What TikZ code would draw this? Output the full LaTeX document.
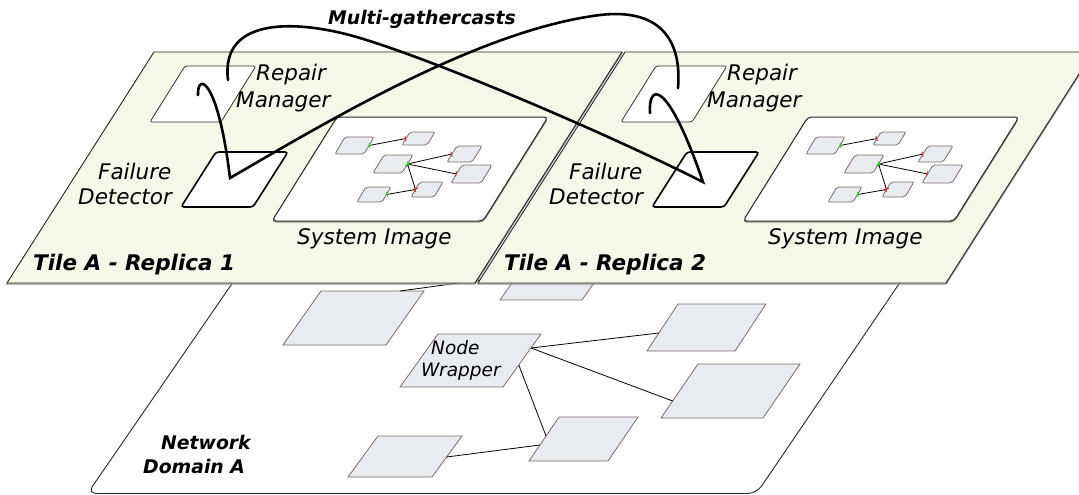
\documentclass[tikz,border=0pt]{standalone}
\usepackage{fontspec}
\setmainfont{DejaVu Sans}
\usetikzlibrary{calc,arrows.meta}

\definecolor{tilefill}{RGB}{247,247,232}
\definecolor{nodefill}{RGB}{232,236,241}
\definecolor{nodeline}{RGB}{128,104,104}
\definecolor{tickgreen}{RGB}{40,215,40}
\definecolor{tickred}{RGB}{230,40,40}

\tikzset{
  tileplate/.style={fill=tilefill, draw=black!85, line width=0.9pt,
    preaction={draw=black!40, line width=1.4pt, transform canvas={yshift=-1pt}}},
  rmbox/.style={fill=white, draw=black!80, line width=0.8pt, rounded corners=2.5pt},
  fdbox/.style={fill=white, draw=black, line width=1.6pt, rounded corners=3pt},
  sipanel/.style={fill=white, draw=black!85, line width=1pt, rounded corners=4pt,
    preaction={draw=black!40, line width=1.4pt, transform canvas={yshift=-1pt}}},
  mini/.style={fill=nodefill, draw=nodeline, line width=0.8pt, rounded corners=2pt},
  netnode/.style={fill=nodefill, draw=nodeline, line width=0.8pt},
  netlink/.style={draw=black, line width=0.8pt},
  minilink/.style={draw=black, line width=0.8pt,
    arrows={Bar[width=5pt,line width=1pt,color=tickgreen]-Bar[width=5pt,line width=1pt,color=tickred]}},
  cast/.style={draw=black, line width=2.6pt, line cap=round},
  lbl/.style={font=\fontsize{21.5}{26}\selectfont\itshape, inner sep=0pt},
  tlbl/.style={font=\fontsize{21.5}{26}\selectfont\bfseries\itshape, inner sep=0pt},
  nlbl/.style={font=\fontsize{18.5}{22}\selectfont\itshape, inner sep=0pt},
  blbl/.style={font=\fontsize{18.8}{22}\selectfont\bfseries\itshape, inner sep=0pt},
}

% slanted box: name, bottom-left x, bottom-left y, width, height, slant, style
\newcommand\slab[7]{%
  \coordinate (#1-bl) at (#2,#3);
  \coordinate (#1-br) at ({#2+#4},#3);
  \coordinate (#1-tr) at ({#2+#4+#6},{#3-#5});
  \coordinate (#1-tl) at ({#2+#6},{#3-#5});
  \coordinate (#1-w) at ($(#1-bl)!0.5!(#1-tl)$);
  \coordinate (#1-e) at ($(#1-br)!0.5!(#1-tr)$);
  \path[#7] (#1-bl) -- (#1-br) -- (#1-tr) -- (#1-tl) -- cycle;
}

% one replica tile with its repair manager, failure detector and system image
\newcommand\drawtile[2]{%
  \slab{#1}{7}{283}{468}{231}{147}{tileplate}
  \slab{#1-rm}{150}{122}{71}{56}{35}{rmbox}
  \slab{#1-fd}{181}{207}{72}{55}{35}{fdbox}
  \slab{#1-si}{272}{221}{211}{104}{65}{sipanel}
  \slab{#1-ma}{335}{154}{29}{17}{10}{mini}
  \slab{#1-mb}{402}{145}{25}{13}{8}{mini}
  \slab{#1-mc}{373}{173}{29}{18}{11}{mini}
  \slab{#1-md}{447}{162}{25}{16}{10}{mini}
  \slab{#1-me}{451}{183}{30}{18}{11}{mini}
  \slab{#1-mf}{411}{197}{23}{15}{9}{mini}
  \slab{#1-mg}{357}{202}{25}{15}{9}{mini}
  \draw[minilink] (#1-ma-e) -- (#1-mb-w);
  \draw[minilink] (#1-mc-e) -- (#1-md-w);
  \draw[minilink] (#1-mc-e) -- (#1-me-w);
  \draw[minilink] (#1-mc-e) -- (#1-mf-w);
  \draw[minilink] (#1-mg-e) -- (#1-mf-w);
  \node[lbl, anchor=base west] (#1-rmt1) at (256,81) {Repair};
  \node[lbl, anchor=base west] (#1-rmt2) at (236,107) {Manager};
  \node[lbl, anchor=base west] (#1-fdt1) at (98,179) {Failure};
  \node[lbl, anchor=base west] (#1-fdt2) at (78,204) {Detector};
  \node[lbl, anchor=base west] (#1-sit) at (297,244) {System Image};
  \node[tlbl, anchor=base west] (#1-title) at (33,270) {Tile A - Replica #2};
}

\begin{document}
\begin{tikzpicture}[x=1pt, y=-1pt]
\useasboundingbox (0,0) rectangle (1079,495);
\clip (0,0) rectangle (1079,495);

% network domain (its top edge lies under the tiles)
\fill[white, rounded corners=9pt] (324,150) -- (87.5,493.5) -- (756.5,493.5) -- (990,150) -- cycle;
\draw[line width=0.9pt, black!85, rounded corners=9pt] (324,150) -- (87.5,493.5) -- (756.5,493.5) -- (990,150);

% network nodes
\slab{n1}{283}{345}{103}{54}{38}{netnode}
\slab{n2}{500}{300}{82}{50}{35}{netnode}
\slab{nw}{400}{387}{103}{53}{38}{netnode}
\slab{n4}{647}{351}{88}{47}{31}{netnode}
\slab{n5}{661}{418}{102}{54}{37}{netnode}
\slab{n6}{529}{461}{79}{44}{30}{netnode}
\slab{n7}{348}{477}{84}{41}{30}{netnode}

\draw[netlink] ($(n1-tl)!0.767!(n1-tr)$) -- (n2-w);
\draw[netlink] ($(nw-br)!0.736!(nw-tr)$) -- ($(n4-bl)!0.383!(n4-tl)$);
\draw[netlink] ($(nw-br)!0.736!(nw-tr)$) -- ($(n5-bl)!0.315!(n5-tl)$);
\draw[netlink] ($(nw-br)!0.415!(nw-tr)$) -- ($(n6-bl)!0.568!(n6-tl)$);
\draw[netlink] ($(n7-br)!0.488!(n7-tr)$) -- ($(n6-bl)!0.364!(n6-tl)$);

\node[nlbl, anchor=base west] (nwt1) at (431,354) {Node};
\node[nlbl, anchor=base west] (nwt2) at (421,376) {Wrapper};
\node[blbl, anchor=base west] (dom1) at (161,449.5) {Network};
\node[blbl, anchor=base west] (dom2) at (143,473) {Domain A};

% the two replica tiles
\drawtile{ta}{1}
\begin{scope}[xshift=471pt]
  \drawtile{tb}{2}
\end{scope}

% multi-gathercast links between repair managers and failure detectors
\coordinate (rm1-a) at (198,95);
\coordinate (fd1-x) at (230,178);
\coordinate (rm2-b) at (678,88);
\coordinate (rm1-b) at (228,80);
\coordinate (fd2-x) at (703,182);
\coordinate (rm2-a) at (650,113);

\draw[cast] (rm1-a) .. controls (197,72) and (218,78) .. (fd1-x)
   .. controls (330,120) and (480,30) .. (600,15)
   .. controls (660,8) and (682,40) .. (rm2-b);
\draw[cast] (rm1-b) .. controls (220,15) and (300,20) .. (360,38)
   .. controls (440,62) and (610,135) .. (fd2-x)
   .. controls (668,80) and (648,82) .. (rm2-a);

\node[blbl, anchor=base west] (title) at (328,25) {Multi-gathercasts};
\end{tikzpicture}
\end{document}
